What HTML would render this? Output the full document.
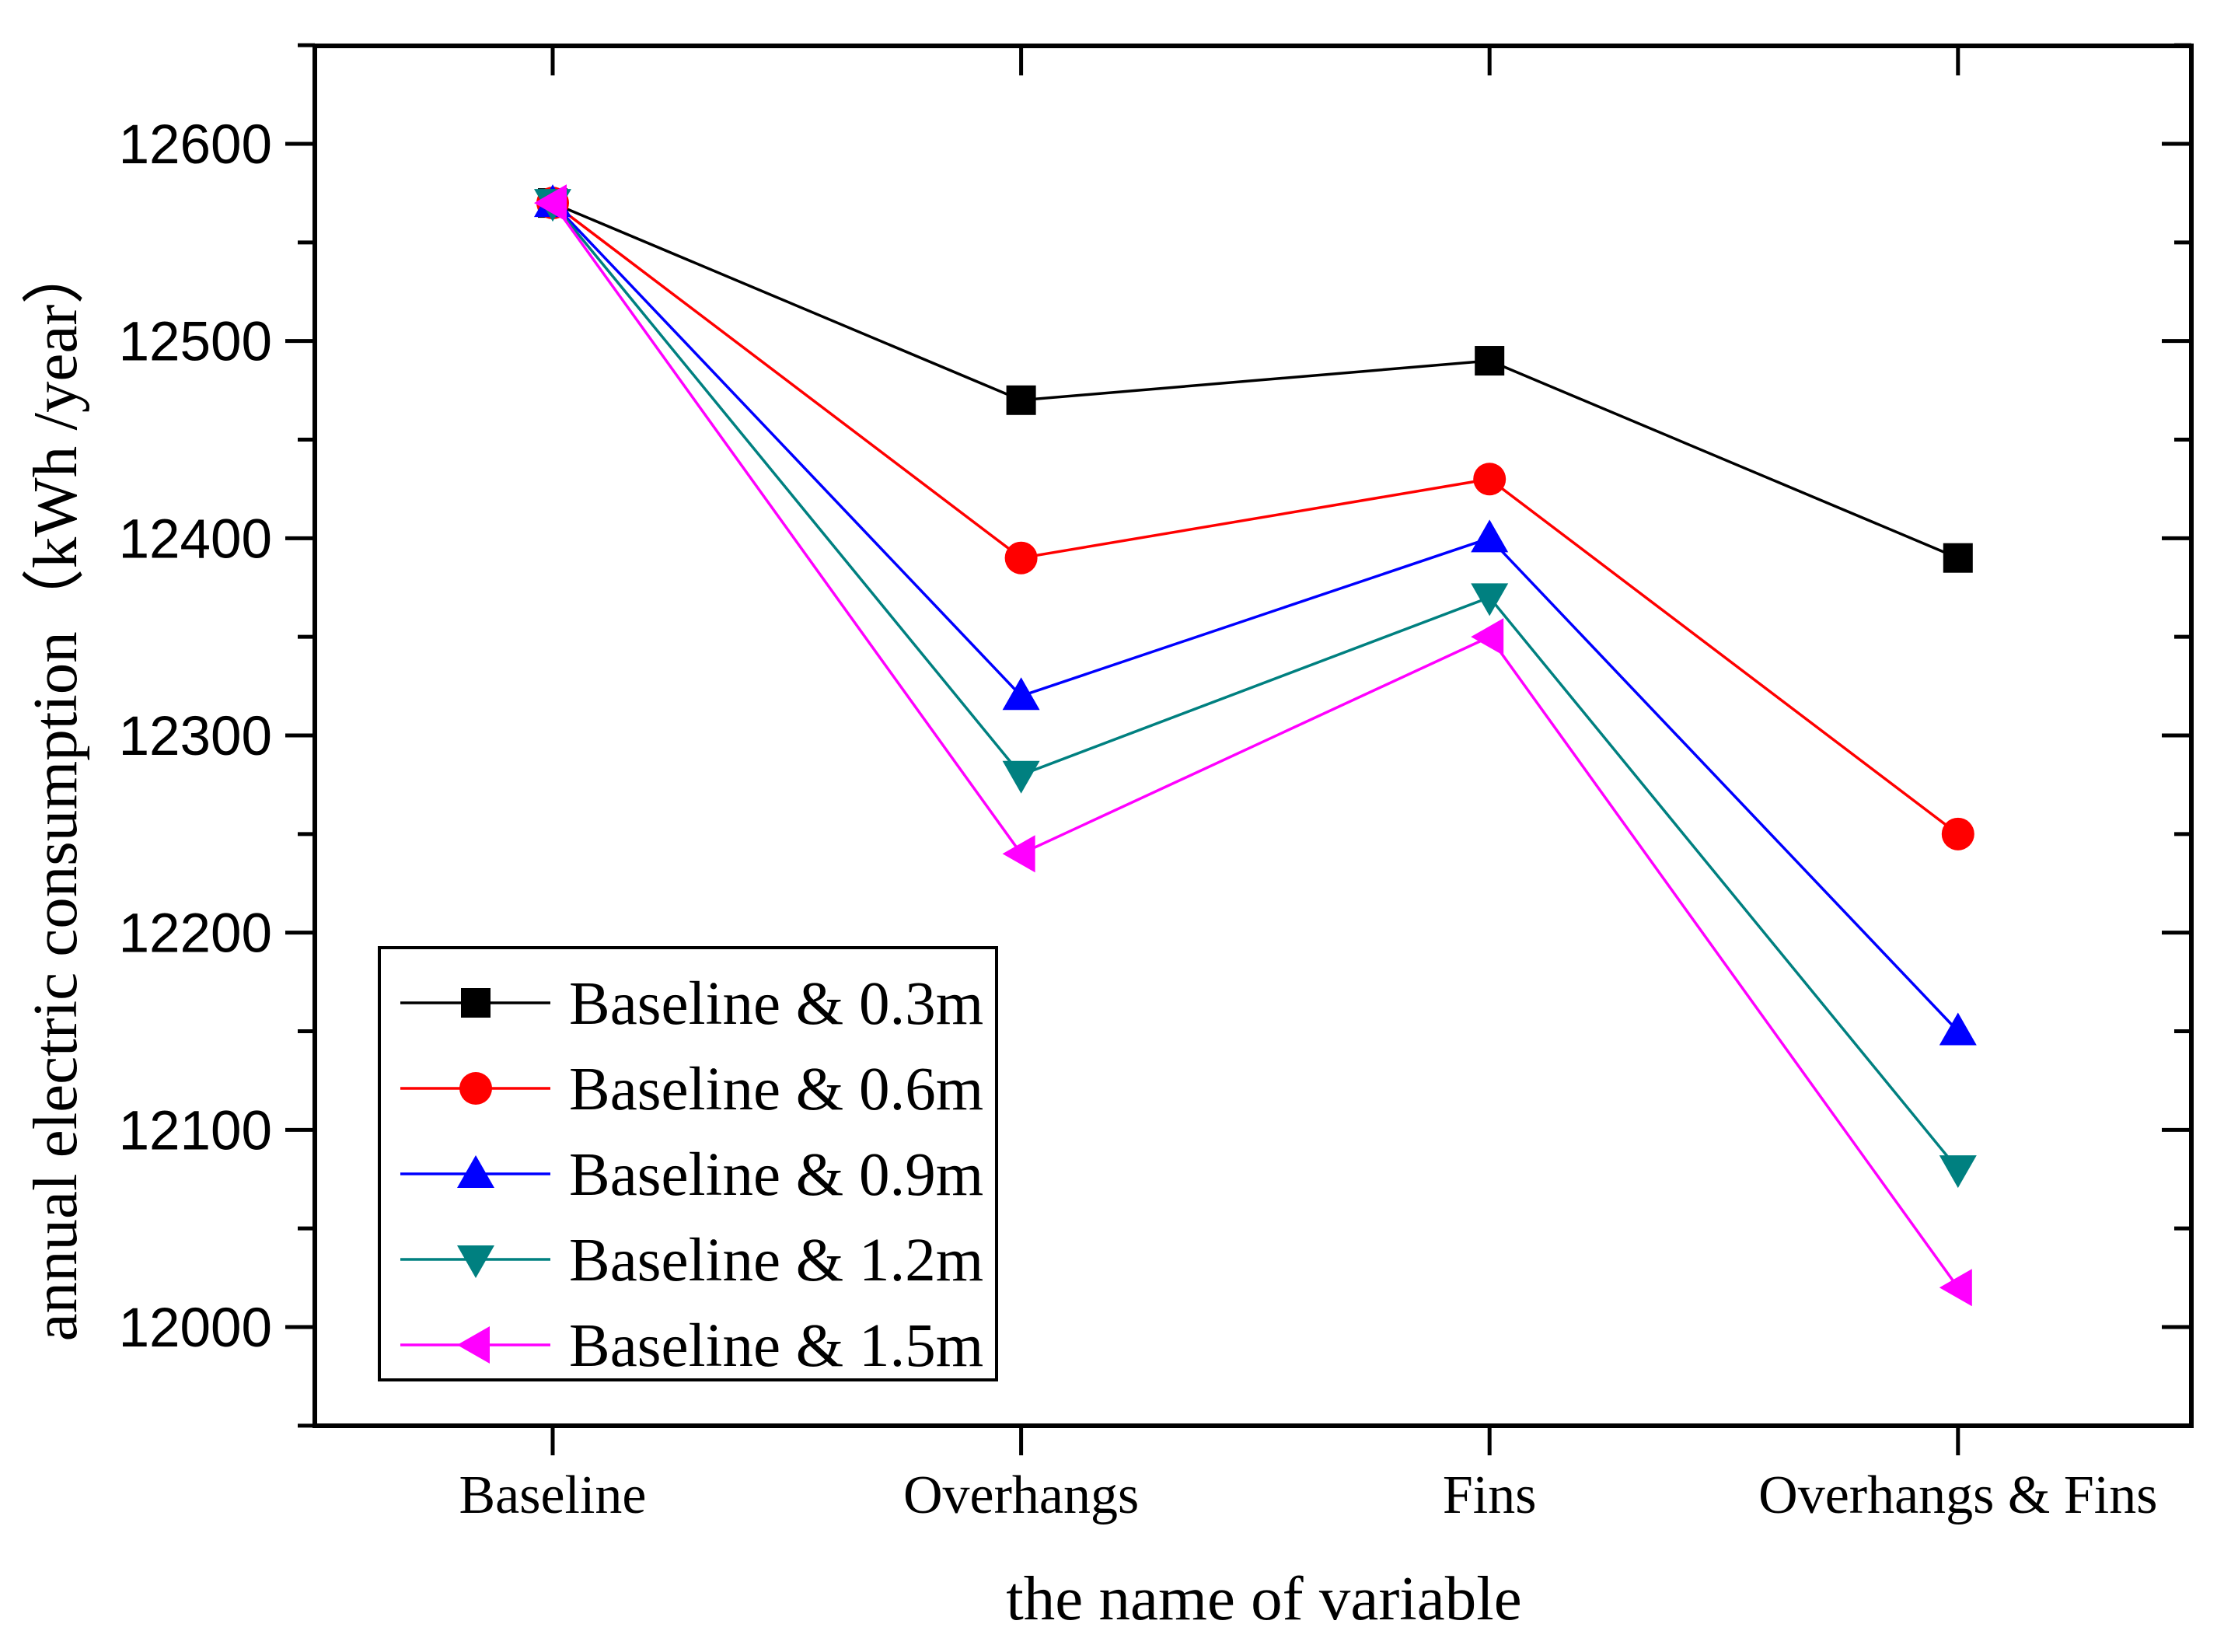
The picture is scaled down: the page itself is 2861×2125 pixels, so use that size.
<!DOCTYPE html>
<html><head><meta charset="utf-8"><style>
html,body{margin:0;padding:0;background:#fff}
svg{display:block}
</style></head><body>
<svg id="chart" width="2861" height="2125" viewBox="0 0 2861 2125" xmlns="http://www.w3.org/2000/svg">
<g id="axes"></g><g id="series"></g><g id="legend"></g>
</svg>
<script>
const categories = ["Baseline","Overhangs","Fins","Overhangs & Fins"];
const s03 = [12570,12470,12490,12390];
const s06 = [12570,12390,12430,12250];
const s09 = [12570,12320,12400,12150];
const s12 = [12570,12280,12370,12080];
const s15 = [12570,12240,12350,12020];
const seriesNames = ["Baseline & 0.3m","Baseline & 0.6m","Baseline & 0.9m","Baseline & 1.2m","Baseline & 1.5m"];
const yTicks = [12000,12100,12200,12300,12400,12500,12600];

const NS="http://www.w3.org/2000/svg";
const L=405,R=2819,T=59,B=1834;
const yScale=v=>1707+(v-12000)*(185-1707)/600;
const xScale=i=>711+i*602.6;
function mk(tag,attrs,parent){const e=document.createElementNS(NS,tag);for(const k in attrs)e.setAttribute(k,attrs[k]);parent.appendChild(e);return e;}
const ax=document.getElementById('axes');
const frame=mk('rect',{x:L,y:T,width:R-L,height:B-T,fill:'none',stroke:'#000','stroke-width':6},ax);


for(let v=11950; v<=12650; v+=50){
  const y=yScale(v), major=(v%100===0);
  const len=major?38:22;
  const t1=mk('line',{x1:L-len,x2:L,y1:y,y2:y,stroke:'#000','stroke-width':5},ax);
  
  
  const t2=mk('line',{x1:R,x2:R-len,y1:y,y2:y,stroke:'#000','stroke-width':5},ax);
  
  
}
yTicks.forEach(v=>{
  const t=mk('text',{x:350,y:yScale(v)+25,'text-anchor':'end','font-family':'Liberation Sans, sans-serif','font-size':71,fill:'#000'},ax);
  t.textContent=v;
  
  
});
categories.forEach((c,i)=>{
  const x=xScale(i);
  const a=mk('line',{x1:x,x2:x,y1:B,y2:B+38,stroke:'#000','stroke-width':5},ax);
  
  
  const b=mk('line',{x1:x,x2:x,y1:T,y2:T+38,stroke:'#000','stroke-width':5},ax);
  
  
  const t=mk('text',{x:x,y:1946,'text-anchor':'middle','font-family':'Liberation Serif, serif','font-size':70,fill:'#000'},ax);
  t.textContent=c;
  
  
});
const xt=mk('text',{x:1626,y:2083,'text-anchor':'middle','font-family':'Liberation Serif, serif','font-size':81,fill:'#000'},ax);
xt.textContent='the name of variable';


const yt=mk('text',{x:0,y:0,'text-anchor':'middle','font-family':'Liberation Serif, serif','font-size':81,fill:'#000',transform:'translate(98,1018) rotate(-90)'},ax);
yt.textContent='annual electric consumption（kWh /year）';



const colors=['#000','#ff0000','#0000ff','#008080','#ff00ff'];
const data=[s03,s06,s09,s12,s15];
function marker(k,cx,cy,g){
  const c=colors[k], r=19;
  let e;
  if(k===0) e=mk('rect',{x:cx-r,y:cy-r,width:2*r,height:2*r,fill:c},g);
  else if(k===1) e=mk('circle',{cx:cx,cy:cy,r:r+2,fill:c},g);
  else if(k===2) e=mk('polygon',{points:`${cx},${cy-24} ${cx-24},${cy+18} ${cx+24},${cy+18}`,fill:c},g);
  else if(k===3) e=mk('polygon',{points:`${cx},${cy+24} ${cx-24},${cy-18} ${cx+24},${cy-18}`,fill:c},g);
  else e=mk('polygon',{points:`${cx-24},${cy} ${cx+18},${cy-24} ${cx+18},${cy+24}`,fill:c},g);
  return e;
}
const sg=document.getElementById('series');
data.forEach((arr,k)=>{
  const g=mk('g',{},sg);
  
  
  const pl=mk('polyline',{points:arr.map((v,i)=>xScale(i)+','+yScale(v)).join(' '),fill:'none',stroke:colors[k],'stroke-width':3.5},g);
  
  
  arr.forEach((v,i)=>{
    const m=marker(k,xScale(i),yScale(v),g);
    
    
  });
});
const lg=document.getElementById('legend');
const box=mk('rect',{x:488,y:1219,width:794,height:556,fill:'#fff',stroke:'#000','stroke-width':4},lg);


seriesNames.forEach((n,k)=>{
  const y=1290+k*110;
  const g=mk('g',{},lg);
  
  
  mk('line',{x1:515,x2:708,y1:y,y2:y,stroke:colors[k],'stroke-width':3.5},g);
  marker(k,612,y,g);
  const t=mk('text',{x:732,y:y+27,'font-family':'Liberation Serif, serif','font-size':79,fill:'#000'},g);
  t.textContent=n;
});
</script>
</body></html>
